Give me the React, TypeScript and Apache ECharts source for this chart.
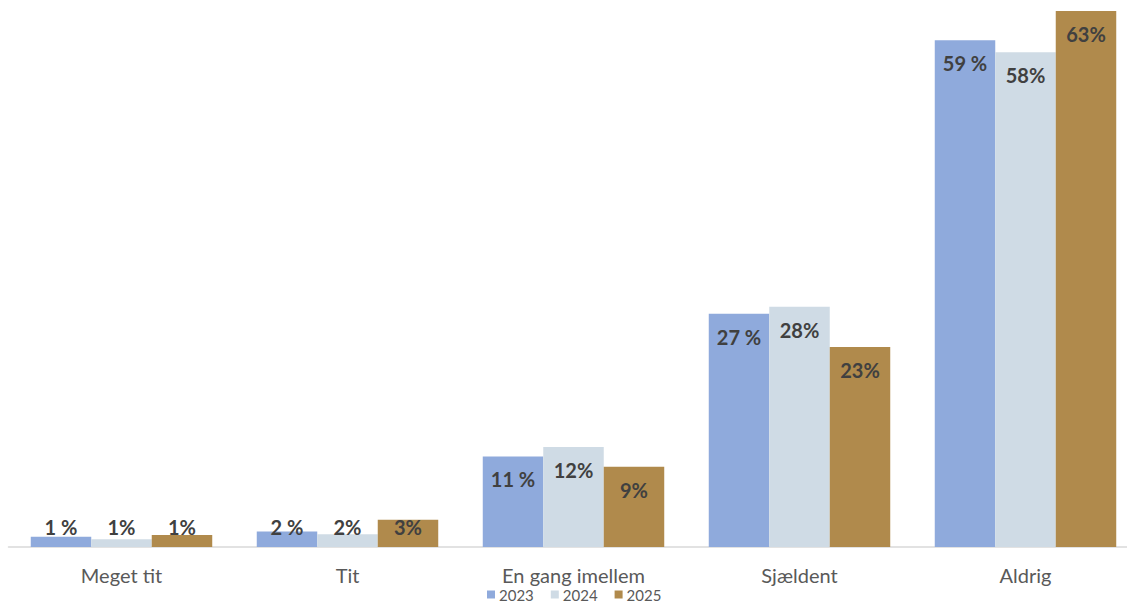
import React, { useEffect, useRef } from "react";
import * as echarts from "echarts";

const categories = ["Meget tit", "Tit", "En gang imellem", "Sjældent", "Aldrig"];
const seriesNames = ["2023", "2024", "2025"];
const values2023 = [1.2, 1.8, 10.6, 27.3, 59.3];
const values2024 = [0.9, 1.5, 11.7, 28.1, 57.9];
const values2025 = [1.4, 3.2, 9.4, 23.4, 62.7];
const colors = ["#8faadc", "#cfdbe5", "#b08a4c"];
const labelSuffix = [" %", "%", "%"];

const FONT = "Lato, 'Open Sans', sans-serif";

export default function App() {
  const ref = useRef<HTMLDivElement>(null);
  useEffect(() => {
    if (!ref.current) return;
    const chart = echarts.init(ref.current, undefined, { renderer: "svg" });
    const allValues = [values2023, values2024, values2025];
    const series = allValues.map((vals, si) => ({
      name: seriesNames[si],
      type: "bar",
      barGap: "0%",
      barCategoryGap: "19.7%",
      itemStyle: { color: colors[si] },
      data: vals.map((v) => ({
        value: v,
        label:
          v < 5
            ? { position: "insideBottom", distance: 10 }
            : { position: "insideTop", distance: 13 },
      })),
      label: {
        show: true,
        color: "#404040",
        fontWeight: "bold",
        fontSize: 20,
        fontFamily: FONT,
        formatter: (p: any) => `${Math.round(p.value)}${labelSuffix[si]}`,
      },
    }));
    chart.setOption({
      animation: false,
      textStyle: { fontFamily: FONT },
      grid: { left: 8.5, top: 0, right: 1.5, bottom: 55, containLabel: false },
      xAxis: {
        type: "category",
        data: categories,
        axisLine: { show: true, lineStyle: { color: "#d9d9d9", width: 1.5 } },
        axisTick: { show: false },
        axisLabel: { color: "#595959", fontSize: 20, fontFamily: FONT, margin: 18 },
      },
      yAxis: {
        type: "value",
        min: 0,
        max: 64,
        show: false,
        splitLine: { show: false },
      },
      legend: {
        data: seriesNames,
        bottom: 0,
        left: 487,
        padding: 0,
        itemWidth: 8,
        itemHeight: 8,
        itemGap: 17,
        icon: "rect",
        textStyle: {
          color: "#595959",
          fontSize: 15,
          lineHeight: 14,
          fontFamily: FONT,
          padding: [0, 0, 0, -1],
        },
      },
      series,
    });
    return () => chart.dispose();
  }, []);
  return (
    <div
      ref={ref}
      style={{ position: "fixed", left: 0, top: 0, width: 1140, height: 602, background: "#fff" }}
    />
  );
}
